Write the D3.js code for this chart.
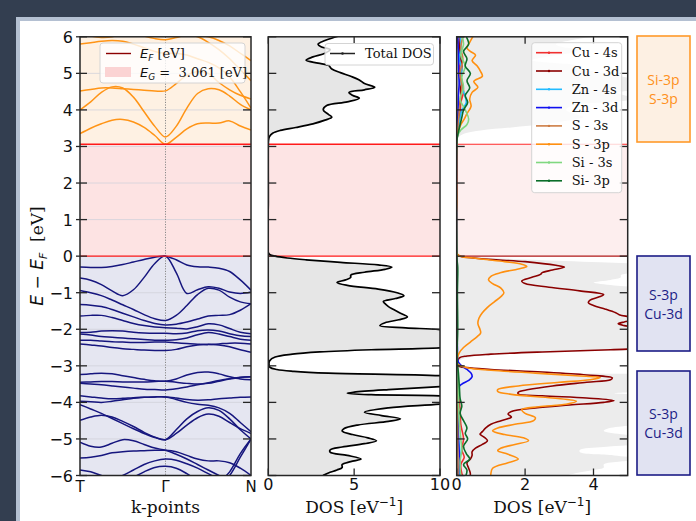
<!DOCTYPE html>
<html><head><meta charset="utf-8">
<script src="https://cdn.jsdelivr.net/npm/d3@7"></script>
<style>html,body{margin:0;padding:0;background:#333e50;} svg{display:block}</style>
</head><body><svg id="c" width="696" height="521"></svg>
<script>
// ---------------- DATA ----------------
const kLabels = ["T", "Γ", "N"];
const kPts = [0,0.125,0.25,0.375,0.5,0.625,0.75,0.875,1,1.125,1.25,1.375,1.5,1.625,1.75,1.875,2];
const gapEnergy = 3.061;
const energyTicks = [-6,-5,-4,-3,-2,-1,0,1,2,3,4,5,6];
const dosTicks = [0,5,10];
const pdosTicks = [0,2,4];

const valenceBands = [
 [-0.30,-0.31,-0.31,-0.28,-0.23,-0.16,-0.09,-0.03,0.00,-0.10,-0.24,-0.29,-0.30,-0.33,-0.42,-0.65,-0.93],
 [-0.60,-0.66,-0.78,-0.95,-1.08,-0.92,-0.58,-0.20,0.00,-0.45,-1.02,-0.92,-0.84,-0.88,-0.98,-1.02,-0.98],
 [-0.94,-1.00,-1.08,-1.20,-1.33,-1.46,-1.60,-1.71,-1.76,-1.62,-1.35,-1.05,-0.88,-0.93,-1.12,-1.25,-1.30],
 [-1.32,-1.34,-1.38,-1.46,-1.56,-1.66,-1.76,-1.84,-1.88,-1.86,-1.80,-1.72,-1.64,-1.62,-1.60,-1.48,-1.30],
 [-1.64,-1.62,-1.62,-1.68,-1.76,-1.84,-1.90,-1.94,-1.96,-1.97,-1.99,-1.93,-1.85,-1.88,-1.98,-2.08,-2.12],
 [-2.09,-2.08,-2.05,-2.04,-2.05,-2.08,-2.10,-2.11,-2.11,-2.12,-2.10,-2.04,-2.02,-2.05,-2.12,-2.18,-2.20],
 [-2.13,-2.16,-2.20,-2.22,-2.24,-2.26,-2.28,-2.30,-2.30,-2.29,-2.24,-2.15,-2.09,-2.13,-2.20,-2.27,-2.30],
 [-2.30,-2.30,-2.32,-2.34,-2.35,-2.36,-2.36,-2.35,-2.35,-2.37,-2.39,-2.41,-2.42,-2.40,-2.38,-2.38,-2.40],
 [-2.40,-2.43,-2.46,-2.50,-2.53,-2.55,-2.57,-2.58,-2.58,-2.55,-2.48,-2.43,-2.41,-2.43,-2.48,-2.56,-2.63],
 [-3.24,-3.22,-3.20,-3.22,-3.27,-3.32,-3.37,-3.41,-3.42,-3.36,-3.25,-3.18,-3.17,-3.22,-3.30,-3.36,-3.38],
 [-3.45,-3.44,-3.43,-3.43,-3.44,-3.44,-3.44,-3.43,-3.42,-3.45,-3.48,-3.50,-3.48,-3.42,-3.36,-3.32,-3.30],
 [-3.48,-3.50,-3.52,-3.55,-3.58,-3.61,-3.64,-3.65,-3.66,-3.63,-3.58,-3.52,-3.46,-3.40,-3.35,-3.31,-3.30],
 [-3.82,-3.85,-3.88,-3.90,-3.89,-3.87,-3.86,-3.85,-3.85,-3.88,-3.92,-3.94,-3.93,-3.90,-3.88,-3.86,-3.85],
 [-3.97,-3.98,-4.00,-3.97,-3.93,-3.89,-3.86,-3.85,-3.85,-3.92,-4.00,-4.05,-4.08,-4.15,-4.30,-4.55,-4.80],
 [-4.06,-4.18,-4.30,-4.44,-4.58,-4.72,-4.85,-4.96,-5.02,-4.75,-4.45,-4.25,-4.15,-4.22,-4.45,-4.75,-5.00],
 [-4.49,-4.40,-4.35,-4.40,-4.52,-4.66,-4.82,-4.95,-5.02,-4.85,-4.62,-4.42,-4.32,-4.38,-4.55,-4.72,-4.85],
 [-5.09,-5.20,-5.22,-5.12,-5.02,-5.05,-5.15,-5.25,-5.31,-5.42,-5.55,-5.70,-5.85,-6.00,-6.15,-6.30,-6.40],
 [-5.52,-5.50,-5.45,-5.38,-5.35,-5.33,-5.32,-5.31,-5.31,-5.35,-5.45,-5.55,-5.60,-5.60,-5.65,-5.80,-6.00],
 [-6.40,-6.30,-6.20,-6.10,-6.00,-5.85,-5.70,-5.60,-5.55,-5.58,-5.68,-5.80,-5.95,-6.10,-6.25,-6.40,-6.50],
 [-5.85,-5.90,-6.00,-6.10,-6.20,-6.05,-5.90,-5.78,-5.75,-5.80,-5.95,-6.15,-6.35,-6.50,-6.60,-6.70,-6.80],
 [-6.80,-6.80,-6.70,-6.70,-6.60,-6.60,-6.60,-6.60,-6.60,-6.60,-6.60,-6.60,-6.50,-6.30,-6.00,-5.50,-5.00],
 [-7.00,-7.00,-7.00,-7.00,-7.00,-7.00,-7.00,-7.00,-7.00,-7.00,-7.00,-6.90,-6.60,-6.20,-5.90,-5.40,-5.00]
];
const conductionBands = [
 [3.35,3.50,3.62,3.72,3.74,3.67,3.52,3.30,3.061,3.25,3.48,3.62,3.64,3.64,3.70,3.56,3.45],
 [4.00,4.22,4.48,4.63,4.60,4.35,3.95,3.55,3.26,3.55,4.05,4.45,4.58,4.55,4.38,4.15,4.00],
 [4.52,4.56,4.60,4.60,4.58,4.56,4.54,4.52,4.52,4.72,4.95,5.05,5.00,4.75,4.55,4.40,4.30],
 [5.80,5.84,5.88,5.90,5.88,5.80,5.70,5.60,5.55,5.55,5.50,5.40,5.30,5.15,4.90,4.50,4.05],
 [6.10,6.02,5.98,6.00,6.10,6.12,6.02,5.95,5.92,5.98,6.05,6.00,5.85,5.65,5.40,5.10,4.80],
 [6.50,6.40,6.30,6.25,6.20,6.20,6.15,6.10,6.10,6.10,6.10,6.05,6.00,5.90,5.75,5.55,5.35]
];

// total DOS: [energy, DOS]
const totalDos = [
 [6.05,4.2],[6.0,3.95],[5.9,3.3],[5.8,2.9],[5.72,3.1],[5.65,3.6],[5.55,3.3],[5.45,2.6],[5.36,2.2],[5.28,2.9],
 [5.22,3.5],[5.12,3.7],[5.02,4.2],[4.92,4.8],[4.82,5.3],[4.72,5.6],[4.62,6.2],[4.55,5.6],[4.48,4.7],[4.4,4.9],
 [4.32,5.3],[4.22,4.6],[4.12,3.4],[4.0,3.2],[3.88,3.5],[3.8,3.7],[3.72,3.3],[3.62,2.6],[3.52,1.6],[3.44,0.7],
 [3.36,0.25],[3.26,0.06],[3.15,0.01],[3.06,0],[1.5,0],[0.1,0],[0.04,0.1],[0,0.4],[-0.05,1.1],[-0.1,2.2],
 [-0.17,4.2],[-0.24,6.4],[-0.3,7.2],[-0.36,6.8],[-0.44,5.6],[-0.52,4.8],[-0.58,4.8],[-0.65,4.5],[-0.72,4.0],[-0.8,4.6],
 [-0.9,6.4],[-1.0,7.5],[-1.08,7.9],[-1.16,7.4],[-1.24,6.7],[-1.3,6.8],[-1.38,7.0],[-1.46,7.3],[-1.56,7.7],[-1.66,8.1],
 [-1.74,7.6],[-1.82,6.8],[-1.9,6.5],[-1.96,8.0],[-2.01,10],[-2.2,14],[-2.4,13],[-2.51,10],[-2.56,6],[-2.62,3],
 [-2.68,1.4],[-2.76,0.4],[-2.86,0.08],[-2.96,0.04],[-3.04,0.1],[-3.1,0.5],[-3.15,1.5],[-3.2,3.5],[-3.27,10],[-3.38,13],
 [-3.5,12],[-3.57,10],[-3.65,7],[-3.72,5],[-3.75,4.6],[-3.79,6],[-3.82,10],[-3.93,12.5],[-4.05,10],[-4.15,7],
 [-4.27,5.6],[-4.36,6.6],[-4.45,7.7],[-4.52,7.0],[-4.62,5.2],[-4.72,4.4],[-4.78,4.3],[-4.88,4.9],[-4.97,5.8],[-5.05,6.3],
 [-5.13,5.6],[-5.22,4.3],[-5.3,3.6],[-5.36,3.6],[-5.45,4.6],[-5.55,5.4],[-5.62,4.8],[-5.7,4.3],[-5.78,4.3],[-5.85,4.0],
 [-5.93,3.5],[-6.0,3.2],[-6.05,3.0]
];

// projected DOS: [energy, DOS]
const cu4s = [[6.05,0.1],[5.7,0.05],[5.4,0.12],[5.1,0.08],[4.8,0.15],[4.5,0.2],[4.2,0.12],[3.9,0.1],[3.6,0.05],[3.3,0.01],[3.15,0],
 [0,0],[-1,0.01],[-2,0.01],[-3,0.02],[-3.8,0.05],[-4.2,0.1],[-4.6,0.12],[-5,0.2],[-5.3,0.15],[-5.5,0.22],[-5.7,0.12],[-6.05,0.18]];
const cu3d = [[6.05,0.12],[5.6,0.08],[5.2,0.15],[4.8,0.1],[4.4,0.12],[4.0,0.08],[3.6,0.05],[3.3,0.02],[3.1,0],[1.5,0],
 [0.05,0.02],[-0.05,0.5],[-0.15,2.0],[-0.25,2.9],[-0.30,3.15],[-0.38,2.8],[-0.45,2.5],[-0.5,2.45],[-0.58,2.2],[-0.68,1.9],
 [-0.75,2.0],[-0.85,2.7],[-0.95,3.6],[-1.05,4.3],[-1.12,4.15],[-1.2,3.9],[-1.27,3.85],[-1.35,4.0],[-1.45,4.35],[-1.55,4.65],
 [-1.6,4.75],[-1.67,5.1],[-1.73,5.3],[-1.8,4.9],[-1.85,4.72],[-1.9,4.9],[-1.97,5.5],[-2.1,7],[-2.3,8],[-2.48,6.5],
 [-2.56,4.5],[-2.62,2.5],[-2.68,1.0],[-2.73,0.3],[-2.78,0.08],[-2.9,0.02],[-3.0,0.05],[-3.05,0.3],[-3.1,1.0],[-3.17,2.5],
 [-3.25,3.8],[-3.33,4.55],[-3.38,4.5],[-3.45,3.8],[-3.55,2.8],[-3.65,2.1],[-3.72,1.8],[-3.77,1.8],[-3.82,2.5],[-3.88,3.8],
 [-3.95,4.6],[-4.0,4.3],[-4.07,3.3],[-4.15,2.3],[-4.25,1.6],[-4.32,1.5],[-4.4,1.6],[-4.5,1.3],[-4.6,1.0],[-4.7,0.85],
 [-4.8,0.75],[-4.87,0.68],[-4.95,0.8],[-5.05,0.9],[-5.15,0.75],[-5.25,0.55],[-5.35,0.45],[-5.45,0.45],[-5.55,0.4],[-5.65,0.3],
 [-5.8,0.35],[-5.95,0.4],[-6.05,0.38]];
const zn4s = [[6.05,0.1],[5.7,0.12],[5.4,0.08],[5.1,0.15],[4.8,0.1],[4.5,0.2],[4.2,0.28],[4.0,0.15],[3.7,0.08],[3.4,0.03],[3.15,0],
 [0,0],[-3,0.01],[-4,0.03],[-5,0.06],[-5.5,0.1],[-6.05,0.08]];
const zn3d = [[6.05,0.03],[5.5,0.05],[5.0,0.06],[4.7,0.07],[4.4,0.05],[4.0,0.04],[3.5,0.02],[3.2,0],
 [0,0],[-1,0.01],[-2.5,0.02],[-2.9,0.05],[-3.0,0.15],[-3.1,0.3],[-3.2,0.42],[-3.3,0.45],[-3.4,0.35],[-3.5,0.15],[-3.6,0.05],
 [-4,0.02],[-5,0.05],[-5.5,0.08],[-6.05,0.05]];
const s3s = [[6.05,0.2],[5.7,0.12],[5.4,0.18],[5.0,0.1],[4.6,0.15],[4.2,0.1],[3.8,0.06],[3.4,0.02],[3.15,0],
 [0,0],[-3,0.01],[-4,0.02],[-5,0.03],[-6.05,0.04]];
const s3p = [[6.05,0.5],[5.85,0.38],[5.7,0.3],[5.6,0.4],[5.5,0.55],[5.35,0.45],[5.2,0.6],[5.05,0.7],[4.92,0.75],[4.78,0.5],
 [4.62,0.62],[4.48,0.45],[4.3,0.38],[4.1,0.42],[3.9,0.3],[3.75,0.22],[3.6,0.12],[3.45,0.06],[3.3,0.02],[3.15,0],[1.5,0],
 [0.05,0.02],[-0.05,0.5],[-0.15,1.4],[-0.22,1.9],[-0.28,2.05],[-0.35,1.8],[-0.45,1.3],[-0.55,1.0],[-0.65,0.93],[-0.75,1.05],
 [-0.88,1.3],[-1.0,1.38],[-1.1,1.3],[-1.25,1.1],[-1.4,0.9],[-1.55,0.75],[-1.7,0.65],[-1.85,0.62],[-2.0,0.68],[-2.1,0.7],
 [-2.2,0.6],[-2.35,0.4],[-2.5,0.2],[-2.65,0.07],[-2.8,0.02],[-2.95,0.03],[-3.05,0.3],[-3.12,1.0],[-3.2,2.3],[-3.27,3.5],
 [-3.32,4.2],[-3.38,3.9],[-3.45,3.0],[-3.55,1.8],[-3.65,1.2],[-3.7,1.2],[-3.78,1.6],[-3.88,2.8],[-3.97,3.5],[-4.05,3.2],
 [-4.12,2.4],[-4.2,1.9],[-4.3,2.0],[-4.42,2.3],[-4.5,2.25],[-4.6,1.7],[-4.7,1.2],[-4.78,1.05],[-4.88,1.4],[-4.97,1.95],
 [-5.05,2.1],[-5.15,1.7],[-5.25,1.3],[-5.32,1.2],[-5.42,1.5],[-5.55,1.8],[-5.65,1.5],[-5.8,1.05],[-5.95,1.0],[-6.05,1.0]];
const si3s = [[6.05,0.15],[5.8,0.2],[5.5,0.12],[5.2,0.25],[4.9,0.15],[4.6,0.2],[4.3,0.1],[4.0,0.25],[3.75,0.35],[3.6,0.3],
 [3.45,0.12],[3.3,0.03],[3.15,0],[0,0],[-2.8,0.01],[-3.5,0.04],[-4,0.05],[-4.5,0.08],[-5,0.12],[-5.3,0.15],[-5.6,0.1],[-6.05,0.12]];
const si3p = [[6.05,0.25],[5.8,0.35],[5.6,0.2],[5.4,0.3],[5.2,0.25],[5.0,0.4],[4.8,0.3],[4.6,0.38],[4.4,0.25],[4.2,0.32],
 [4.0,0.2],[3.8,0.15],[3.6,0.1],[3.4,0.05],[3.2,0.01],[3.1,0],[0,0],[-0.3,0.03],[-1,0.02],[-2,0.03],[-2.8,0.01],[-3.2,0.05],
 [-3.6,0.08],[-3.9,0.1],[-4.1,0.15],[-4.3,0.1],[-4.5,0.2],[-4.7,0.3],[-4.85,0.25],[-5.0,0.32],[-5.2,0.2],[-5.4,0.28],
 [-5.55,0.38],[-5.7,0.2],[-5.85,0.3],[-6.05,0.25]];

const pdosNames = ["Cu - 4s","Cu - 3d","Zn - 4s","Zn - 3d","S - 3s","S - 3p","Si - 3s","Si- 3p"];
const pdosSeries = [cu4s, cu3d, zn4s, zn3d, s3s, s3p, si3s, si3p];
const pdosColors = ["#f03030","#8b0000","#22bbff","#1010f0","#cd7d45","#ff9010","#80d880","#0b6e2a"];

const boxNotes = [
 {lines:["Si-3p","S-3p"], kind:"c"},
 {lines:["S-3p","Cu-3d"], kind:"v"},
 {lines:["S-3p","Cu-3d"], kind:"v"}
];

// ---------------- DRAW ----------------
const svg = d3.select("#c");
svg.append("rect").attr("width",696).attr("height",521).attr("fill","#333e50");
svg.append("rect").attr("x",16).attr("y",17).attr("width",680).attr("height",504).attr("fill","#b4c0d2");
svg.append("rect").attr("x",20).attr("y",21).attr("width",676).attr("height",500).attr("fill","#ffffff");

const yTop = 36.8, yBot = 475.5;
const y = d3.scaleLinear().domain([-6,6]).range([yBot,yTop]);
const xk = d3.scaleLinear().domain([0,2]).range([80,251]);
const xd = d3.scaleLinear().domain([0,10]).range([268.3,440]);
const xp = d3.scaleLinear().domain([0,5]).range([456.7,627.7]);
const sans = "'DejaVu Sans', sans-serif";
const serif = "'DejaVu Serif', serif";

const defs = svg.append("defs");
function clip(id, sx){
  defs.append("clipPath").attr("id",id).append("rect")
    .attr("x",sx.range()[0]).attr("y",yTop).attr("width",sx.range()[1]-sx.range()[0]).attr("height",yBot-yTop);
}
clip("c1",xk); clip("c2",xd); clip("c3",xp);

function band(g, sx, lo, hi, fill){
  g.append("rect").attr("x",sx.range()[0]).attr("width",sx.range()[1]-sx.range()[0])
   .attr("y",y(hi)).attr("height",y(lo)-y(hi)).attr("fill",fill);
}
function hline(g, sx, e, col, w){
  g.append("line").attr("x1",sx.range()[0]).attr("x2",sx.range()[1]).attr("y1",y(e)).attr("y2",y(e))
   .attr("stroke",col).attr("stroke-width",w);
}

// Panel 1 : band structure
const g1 = svg.append("g").attr("clip-path","url(#c1)");
band(g1, xk, -6, 0, "#e5e6f1");
band(g1, xk, 0, gapEnergy, "#fde3e3");
band(g1, xk, gapEnergy, 6, "#fef1e3");
energyTicks.forEach(t=>{ if(t>-6&&t<6) hline(g1, xk, t, "#d2d2da", 0.8); });
g1.append("line").attr("x1",xk(1)).attr("x2",xk(1)).attr("y1",yTop).attr("y2",yBot)
  .attr("stroke","#8a8a8a").attr("stroke-width",1).attr("stroke-dasharray","1.2,1.4");
const bandLine = d3.line().x((e,i)=>xk(kPts[i])).y(e=>y(e)).curve(d3.curveCatmullRom.alpha(0.5));
g1.selectAll(".vb").data(valenceBands).join("path").attr("d",bandLine)
  .attr("fill","none").attr("stroke","#16167e").attr("stroke-width",1.5);
g1.selectAll(".cb").data(conductionBands).join("path").attr("d",bandLine)
  .attr("fill","none").attr("stroke","#ff9416").attr("stroke-width",1.5);
hline(g1, xk, 0, "#ff1a1a", 1.3);
hline(g1, xk, gapEnergy, "#ff1a1a", 1.3);

// Panel 2 : total DOS
const g2 = svg.append("g").attr("clip-path","url(#c2)");
const dosArea2 = d3.area().y(d=>y(d[0])).x0(xd(0)).x1(d=>xd(d[1])).curve(d3.curveCatmullRom.alpha(0.5));
g2.append("path").datum(totalDos).attr("d",dosArea2).attr("fill","#e6e6e6");
band(g2, xd, 0, gapEnergy, "#fde4e4");
hline(g2, xd, 0, "#ff1a1a", 1.3);
hline(g2, xd, gapEnergy, "#ff1a1a", 1.3);
const dosLine2 = d3.line().y(d=>y(d[0])).x(d=>xd(d[1])).curve(d3.curveCatmullRom.alpha(0.5));
g2.append("path").datum(totalDos).attr("d",dosLine2).attr("fill","none").attr("stroke","#000").attr("stroke-width",1.7);

// Panel 3 : projected DOS
const g3 = svg.append("g").attr("clip-path","url(#c3)");
const dosArea3 = d3.area().y(d=>y(d[0])).x0(xp(0)).x1(d=>xp(d[1])).curve(d3.curveCatmullRom.alpha(0.5));
g3.append("path").datum(totalDos).attr("d",dosArea3).attr("fill","#ececec");
band(g3, xp, 0, gapEnergy, "#fdeeee");
hline(g3, xp, gapEnergy, "#ff2a2a", 1.2);
hline(g3, xp, 0, "#b01818", 1.3);
const pLine = d3.line().y(d=>y(d[0])).x(d=>xp(d[1])).curve(d3.curveCatmullRom.alpha(0.5));
g3.selectAll(".pd").data(pdosSeries).join("path").attr("d",pLine)
  .attr("fill","none").attr("stroke",(d,i)=>pdosColors[i]).attr("stroke-width",1.6);

// Frames and ticks
function frame(sx){
  svg.append("rect").attr("x",sx.range()[0]).attr("y",yTop).attr("width",sx.range()[1]-sx.range()[0])
    .attr("height",yBot-yTop).attr("fill","none").attr("stroke","#262626").attr("stroke-width",1.5);
}
[xk,xd,xp].forEach(frame);
const tk = svg.append("g").attr("stroke","#262626").attr("stroke-width",1.3);
energyTicks.forEach(t=>{
  tk.append("line").attr("x1",76).attr("x2",87).attr("y1",y(t)).attr("y2",y(t));
  tk.append("line").attr("x1",243).attr("x2",251).attr("y1",y(t)).attr("y2",y(t));
  [xd,xp].forEach(sx=>{
    tk.append("line").attr("x1",sx.range()[0]).attr("x2",sx.range()[0]+8).attr("y1",y(t)).attr("y2",y(t));
    tk.append("line").attr("x1",sx.range()[1]-8).attr("x2",sx.range()[1]).attr("y1",y(t)).attr("y2",y(t));
  });
});
[[xd,dosTicks],[xp,pdosTicks]].forEach(([sx,ts])=>{
  ts.forEach(t=>{
    tk.append("line").attr("x1",sx(t)).attr("x2",sx(t)).attr("y1",yTop).attr("y2",yTop+7);
    tk.append("line").attr("x1",sx(t)).attr("x2",sx(t)).attr("y1",yBot-7).attr("y2",yBot);
  });
});

// tick labels
const fmt = t => (t<0 ? "\u2212"+Math.abs(t) : ""+t);
svg.append("g").selectAll("text").data(energyTicks).join("text")
  .attr("x",73).attr("y",t=>y(t)+6).attr("text-anchor","end")
  .attr("font-family",sans).attr("font-size",16).attr("fill","#111").text(fmt);
svg.append("g").selectAll("text").data(kLabels).join("text")
  .attr("x",(d,i)=>xk(i)).attr("y",492).attr("text-anchor","middle")
  .attr("font-family",sans).attr("font-size",15).attr("fill","#111").text(d=>d);
[[xd,dosTicks],[xp,pdosTicks]].forEach(([sx,ts])=>{
  svg.append("g").selectAll("text").data(ts).join("text")
    .attr("x",t=>sx(t)).attr("y",490).attr("text-anchor","middle")
    .attr("font-family",sans).attr("font-size",16).attr("fill","#111").text(t=>""+t);
});

// axis labels
svg.append("text").attr("x",(xk.range()[0]+xk.range()[1])/2).attr("y",513).attr("text-anchor","middle")
  .attr("font-family",serif).attr("font-size",17).attr("fill","#111").text("k-points");
[xd,xp].forEach(sx=>{
  const t = svg.append("text").attr("x",(sx.range()[0]+sx.range()[1])/2).attr("y",513).attr("text-anchor","middle")
    .attr("font-family",serif).attr("font-size",17).attr("fill","#111");
  t.append("tspan").text("DOS [eV");
  t.append("tspan").attr("dy",-7).attr("font-size",12).attr("font-family",sans).text("\u22121");
  t.append("tspan").attr("dy",7).text("]");
});
const yl = svg.append("text").attr("transform","translate(43,256) rotate(-90)").attr("text-anchor","middle")
  .attr("font-size",17).attr("fill","#111");
yl.append("tspan").attr("font-family",sans).attr("font-style","italic").text("E");
yl.append("tspan").attr("font-family",sans).text(" \u2212 ");
yl.append("tspan").attr("font-family",sans).attr("font-style","italic").text("E");
yl.append("tspan").attr("font-family",sans).attr("font-style","italic").attr("font-size",11).attr("dy",4).text("F");
yl.append("tspan").attr("font-family",serif).attr("dy",-4).text("\u00a0\u00a0[eV]");

// Legend panel 1
const l1 = svg.append("g");
l1.append("rect").attr("x",100).attr("y",43).attr("width",145).attr("height",40).attr("rx",3)
  .attr("fill","#fff").attr("fill-opacity",0.8).attr("stroke","#d4d4d4");
l1.append("line").attr("x1",106).attr("x2",131).attr("y1",53.5).attr("y2",53.5).attr("stroke","#8b0000").attr("stroke-width",1.4);
l1.append("rect").attr("x",105).attr("y",67).attr("width",26).attr("height",10).attr("fill","#fbd3d3");
const t1 = l1.append("text").attr("x",140).attr("y",58).attr("font-size",13).attr("fill","#111");
t1.append("tspan").attr("font-family",sans).attr("font-style","italic").text("E");
t1.append("tspan").attr("font-family",sans).attr("font-style","italic").attr("font-size",9).attr("dy",3).text("F");
t1.append("tspan").attr("font-family",serif).attr("dy",-3).text(" [eV]");
const t2 = l1.append("text").attr("x",140).attr("y",77).attr("font-size",13).attr("fill","#111");
t2.append("tspan").attr("font-family",sans).attr("font-style","italic").text("E");
t2.append("tspan").attr("font-family",sans).attr("font-style","italic").attr("font-size",9).attr("dy",3).text("G");
t2.append("tspan").attr("font-family",sans).attr("dy",-3).text(" = \u00a0");
t2.append("tspan").attr("font-family",serif).text("3.061 [eV]");

// Legend panel 2
const l2 = svg.append("g");
l2.append("rect").attr("x",325).attr("y",43.5).attr("width",108.5).attr("height",21.5).attr("rx",3)
  .attr("fill","#fff").attr("fill-opacity",0.8).attr("stroke","#d4d4d4");
l2.append("line").attr("x1",330).attr("x2",355).attr("y1",53.5).attr("y2",53.5).attr("stroke","#222").attr("stroke-width",1.5);
l2.append("circle").attr("cx",342.5).attr("cy",53.5).attr("r",1.3).attr("fill","#222");
l2.append("text").attr("x",365).attr("y",58).attr("font-family",serif).attr("font-size",13).attr("fill","#111").text("Total DOS");

// Legend panel 3
const l3 = svg.append("g");
l3.append("rect").attr("x",531.7).attr("y",42.7).attr("width",90).attr("height",150).attr("rx",3)
  .attr("fill","#fff").attr("fill-opacity",0.8).attr("stroke","#d4d4d4");
pdosNames.forEach((n,i)=>{
  const yy = 52.7 + 18.3*i;
  l3.append("line").attr("x1",536).attr("x2",562).attr("y1",yy).attr("y2",yy).attr("stroke",pdosColors[i]).attr("stroke-width",1.6);
  l3.append("circle").attr("cx",549).attr("cy",yy).attr("r",1.2).attr("fill",pdosColors[i]);
  l3.append("text").attr("x",571.7).attr("y",yy+4.5).attr("font-family",serif).attr("font-size",13).attr("fill","#111").text(n);
});

// Right annotation boxes
const bx = svg.append("g");
const boxY = [[36,142],[256,351],[371,475]];
boxNotes.forEach((b,i)=>{
  const [y0,y1] = boxY[i];
  const col = b.kind==="c" ? "#ff9a2a" : "#1c1c86";
  const fill = b.kind==="c" ? "#fdf0e3" : "#e1e3f2";
  bx.append("rect").attr("x",637).attr("y",y0).attr("width",53).attr("height",y1-y0)
    .attr("fill",fill).attr("stroke",col).attr("stroke-width",1.6);
  const cy = (y0+y1)/2;
  b.lines.forEach((s,j)=>{
    bx.append("text").attr("x",663.5).attr("y",cy-4+j*19).attr("text-anchor","middle")
      .attr("font-family","'Open Sans', 'Noto Sans', sans-serif").attr("font-size",14)
      .attr("fill", b.kind==="c" ? "#ff9020" : "#1c1c86").text(s);
  });
});
</script></body></html>
